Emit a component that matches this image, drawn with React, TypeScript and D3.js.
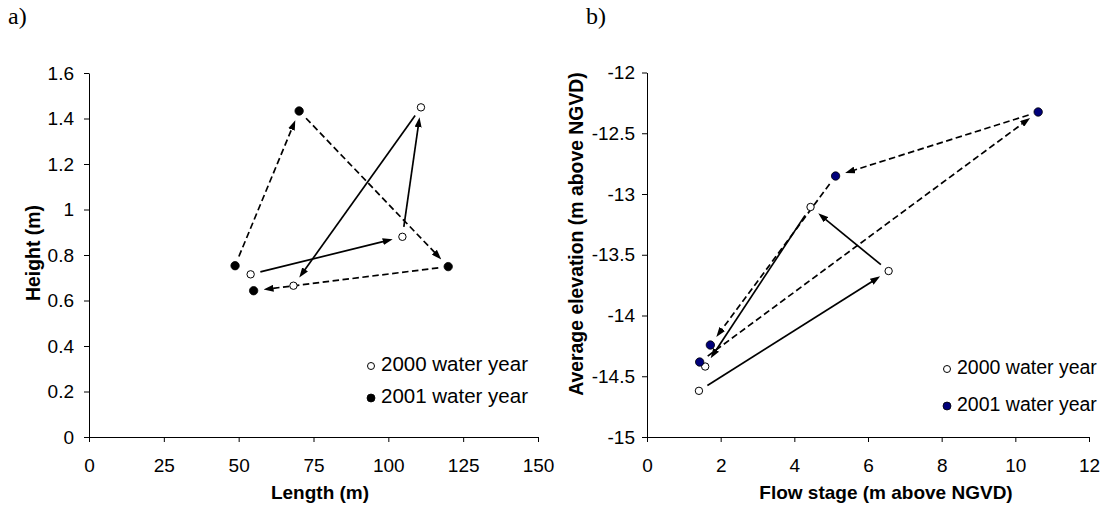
import { useEffect, useRef } from 'react';
import * as d3 from 'd3';

// tick labels
const lengthTicks = [0, 25, 50, 75, 100, 125, 150];
const heightTicks = [0, 0.2, 0.4, 0.6, 0.8, 1, 1.2, 1.4, 1.6];
const stageTicks = [0, 2, 4, 6, 8, 10, 12];
const elevationTicks = [-15, -14.5, -14, -13.5, -13, -12.5, -12];

// a) channel length vs height, in visiting order
const length2000 = [54, 104.7, 110.9, 68.3];
const height2000 = [0.715, 0.88, 1.449, 0.665];
const length2001 = [48.8, 70.2, 120, 55];
const height2001 = [0.753, 1.433, 0.749, 0.643];

// b) flow stage vs average elevation, in visiting order
const stage2000 = [1.41, 6.56, 4.44, 1.58];
const elevation2000 = [-14.62, -13.634, -13.107, -14.42];
const stage2001 = [1.43, 10.62, 5.12, 1.72];
const elevation2001 = [-14.383, -12.325, -12.852, -14.243];

const seriesNames = ['2000 water year', '2001 water year'];

const FONT = '"Liberation Sans", Arial, sans-serif';

interface Panel {
  letter: string;
  letterX: number;
  xTicks: number[];
  yTicks: number[];
  xTitle: string;
  yTitle: string;
  openX: number[];
  openY: number[];
  filledX: number[];
  filledY: number[];
  filledColor: string;
  left: number;
  right: number;
  top: number;
  bottom: number;
  xTitleX: number;
  yTitleX: number;
  yTitleY: number;
  legendX: number;
  legendY: number[];
  legendSize: number;
  yPad: number;
}

const panels: Panel[] = [
  {
    letter: 'a)',
    letterX: 8,
    xTicks: lengthTicks,
    yTicks: heightTicks,
    xTitle: 'Length (m)',
    yTitle: 'Height (m)',
    openX: length2000,
    openY: height2000,
    filledX: length2001,
    filledY: height2001,
    filledColor: '#000',
    left: 89,
    right: 538,
    top: 73,
    bottom: 437,
    xTitleX: 320,
    yTitleX: 35,
    yTitleY: 253,
    legendX: 371,
    legendY: [366, 398],
    legendSize: 20.5,
    yPad: 10,
  },
  {
    letter: 'b)',
    letterX: 586,
    xTicks: stageTicks,
    yTicks: elevationTicks,
    xTitle: 'Flow stage (m above NGVD)',
    yTitle: 'Average elevation (m above NGVD)',
    openX: stage2000,
    openY: elevation2000,
    filledX: stage2001,
    filledY: elevation2001,
    filledColor: '#00007a',
    left: 647,
    right: 1089,
    top: 72.5,
    bottom: 437,
    xTitleX: 886,
    yTitleX: 578,
    yTitleY: 234,
    legendX: 947,
    legendY: [369, 406],
    legendSize: 19.5,
    yPad: 7,
  },
];

function drawPanel(svg: d3.Selection<SVGSVGElement, unknown, null, undefined>, p: Panel) {
  const x = d3.scaleLinear().domain(d3.extent(p.xTicks) as [number, number]).range([p.left, p.right]);
  const y = d3.scaleLinear().domain(d3.extent(p.yTicks) as [number, number]).range([p.bottom, p.top]);

  const g = svg.append('g');

  // panel letter
  g.append('text')
    .attr('x', p.letterX)
    .attr('y', 24)
    .attr('font-family', '"Liberation Serif", "Times New Roman", serif')
    .attr('font-size', 24)
    .text(p.letter);

  // X axis
  const xa = g
    .append('g')
    .attr('transform', `translate(0,${p.bottom})`)
    .call(
      d3
        .axisBottom(x)
        .tickValues(p.xTicks)
        .tickFormat((d) => String(d))
        .tickSizeInner(5)
        .tickSizeOuter(0)
        .tickPadding(17)
    );

  // Y axis
  const ya = g
    .append('g')
    .attr('transform', `translate(${p.left},0)`)
    .call(
      d3
        .axisLeft(y)
        .tickValues(p.yTicks)
        .tickFormat((d) => String(d))
        .tickSizeInner(5)
        .tickSizeOuter(0)
        .tickPadding(p.yPad)
    );

  [xa, ya].forEach((a) => {
    a.selectAll('.domain, .tick line').attr('stroke', '#000');
    a.selectAll('text').attr('fill', '#000').attr('font-size', 19).attr('font-family', FONT);
  });

  // axis titles
  g.append('text')
    .attr('x', p.xTitleX)
    .attr('y', 499)
    .attr('text-anchor', 'middle')
    .attr('font-family', FONT)
    .attr('font-weight', 'bold')
    .attr('font-size', 19)
    .text(p.xTitle);

  g.append('text')
    .attr('transform', `translate(${p.yTitleX},${p.yTitleY}) rotate(-90)`)
    .attr('text-anchor', 'middle')
    .attr('dominant-baseline', 'middle')
    .attr('font-family', FONT)
    .attr('font-weight', 'bold')
    .attr('font-size', 19.4)
    .text(p.yTitle);

  // arrows between consecutive states
  const arrows = (xs: number[], ys: number[], dashed: boolean) => {
    const pts = xs.map((v, i) => [x(v), y(ys[i])]);
    const segs = d3.pairs(pts).map(([a, b]) => {
      const dx = b[0] - a[0];
      const dy = b[1] - a[1];
      const len = Math.hypot(dx, dy);
      const ux = dx / len;
      const uy = dy / len;
      const startGap = 10;
      const tipGap = 10;
      const head = 9;
      return {
        x1: a[0] + ux * startGap,
        y1: a[1] + uy * startGap,
        x2: b[0] - ux * (tipGap + head),
        y2: b[1] - uy * (tipGap + head),
      };
    });
    g.append('g')
      .selectAll('line')
      .data(segs)
      .join('line')
      .attr('x1', (d) => d.x1)
      .attr('y1', (d) => d.y1)
      .attr('x2', (d) => d.x2)
      .attr('y2', (d) => d.y2)
      .attr('stroke', '#000')
      .attr('stroke-width', 1.7)
      .attr('stroke-dasharray', dashed ? '6.5,3.5' : null)
      .attr('marker-end', 'url(#arrowhead)');
  };
  arrows(p.openX, p.openY, false);
  arrows(p.filledX, p.filledY, true);

  // points
  g.append('g')
    .selectAll('circle')
    .data(p.openX.map((v, i) => [v, p.openY[i]]))
    .join('circle')
    .attr('cx', (d) => x(d[0]))
    .attr('cy', (d) => y(d[1]))
    .attr('r', 3.7)
    .attr('fill', '#fff')
    .attr('stroke', '#000')
    .attr('stroke-width', 1);

  g.append('g')
    .selectAll('circle')
    .data(p.filledX.map((v, i) => [v, p.filledY[i]]))
    .join('circle')
    .attr('cx', (d) => x(d[0]))
    .attr('cy', (d) => y(d[1]))
    .attr('r', 4.2)
    .attr('fill', p.filledColor)
    .attr('stroke', '#000')
    .attr('stroke-width', 0.8);

  // legend
  const lg = g.append('g');
  seriesNames.forEach((name, i) => {
    lg.append('circle')
      .attr('cx', p.legendX)
      .attr('cy', p.legendY[i])
      .attr('r', i === 0 ? 3.5 : 4)
      .attr('fill', i === 0 ? '#fff' : p.filledColor)
      .attr('stroke', '#000')
      .attr('stroke-width', i === 0 ? 1 : 0.8);
    lg.append('text')
      .attr('x', p.legendX + 10)
      .attr('y', p.legendY[i])
      .attr('dominant-baseline', 'middle')
      .attr('font-family', FONT)
      .attr('font-size', p.legendSize)
      .text(name);
  });
}

export default function App() {
  const svgRef = useRef<SVGSVGElement>(null);

  useEffect(() => {
    if (!svgRef.current) return;
    const svg = d3.select(svgRef.current);
    svg.selectAll('*').remove();

    svg
      .append('defs')
      .append('marker')
      .attr('id', 'arrowhead')
      .attr('viewBox', '0 0 10 7')
      .attr('refX', 1)
      .attr('refY', 3.5)
      .attr('markerWidth', 10)
      .attr('markerHeight', 7)
      .attr('markerUnits', 'userSpaceOnUse')
      .attr('orient', 'auto')
      .append('path')
      .attr('d', 'M0,0L10,3.5L0,7Z')
      .attr('fill', '#000');

    panels.forEach((p) => drawPanel(svg, p));
  }, []);

  return (
    <div style={{ position: 'absolute', left: 0, top: 0, background: '#fff' }}>
      <svg ref={svgRef} width={1113} height={506} style={{ display: 'block' }} />
    </div>
  );
}
